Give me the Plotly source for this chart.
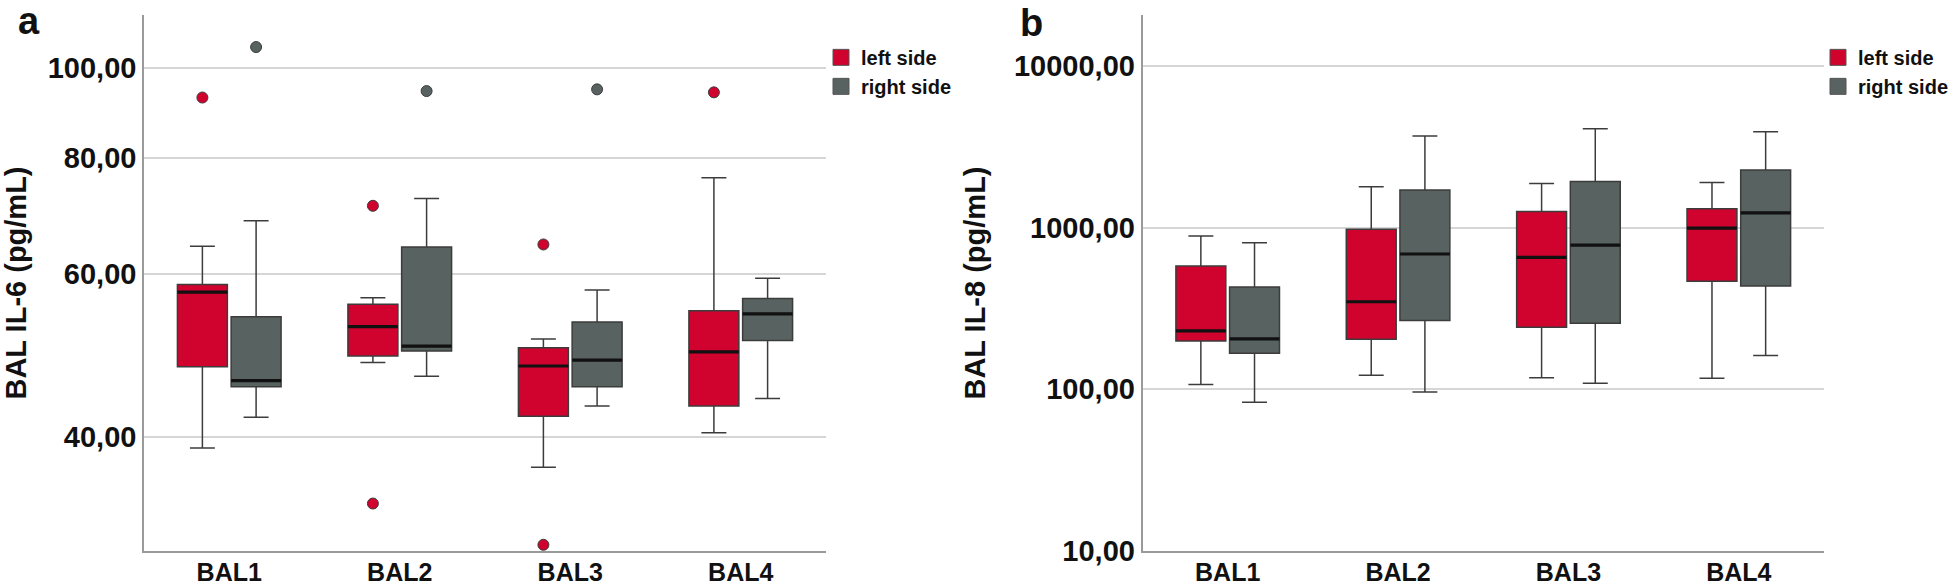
import plotly.graph_objects as go

# ---------------- data ----------------
categories = ["BAL1", "BAL2", "BAL3", "BAL4"]

# Panel a: BAL IL-6 (pg/mL)
il6_left_lower = [38.9, 48.1, 37.1, 40.4]
il6_left_q1 = [47.6, 48.9, 42.1, 43.2]
il6_left_median = [57.3, 52.6, 47.7, 49.4]
il6_left_q3 = [58.4, 55.6, 49.9, 54.7]
il6_left_upper = [64.2, 56.5, 51.0, 76.1]
il6_left_out_x = ["BAL1", "BAL2", "BAL2", "BAL3", "BAL3", "BAL4"]
il6_left_out_y = [92.9, 71.0, 33.9, 64.5, 30.6, 94.1]

il6_right_lower = [42.0, 46.5, 43.2, 44.0]
il6_right_q1 = [45.3, 49.5, 45.3, 50.8]
il6_right_median = [46.0, 50.1, 48.4, 54.3]
il6_right_q3 = [53.9, 64.1, 53.2, 56.4]
il6_right_upper = [68.4, 72.3, 57.6, 59.3]
il6_right_out_x = ["BAL1", "BAL2", "BAL3"]
il6_right_out_y = [105.3, 94.4, 94.8]

# Panel b: BAL IL-8 (pg/mL)
il8_left_lower = [107, 122, 118, 117]
il8_left_q1 = [199, 204, 242, 466]
il8_left_median = [230, 348, 655, 993]
il8_left_q3 = [579, 977, 1261, 1309]
il8_left_upper = [887, 1791, 1879, 1902]

il8_right_lower = [83, 96, 109, 162]
il8_right_q1 = [167, 266, 256, 435]
il8_right_median = [205, 687, 780, 1234]
il8_right_q3 = [430, 1708, 1930, 2275]
il8_right_upper = [806, 3695, 4090, 3917]

il6_tickvals = [40, 60, 80, 100]
il6_ticktext = ["40,00", "60,00", "80,00", "100,00"]
il8_tickvals = [10, 100, 1000, 10000]
il8_ticktext = ["10,00", "100,00", "1000,00", "10000,00"]

series_names = ["left side", "right side"]

# ---------------- style ----------------
RED = "#D0022E"
GREY = "#586361"
OUTLINE = "#3c3c3c"
FONT = "Liberation Sans, Arial, sans-serif"
W, H = 1960, 586

fig = go.Figure()


def add_panel(xa, ya, stats_left, stats_right, out_left, out_right, legend_name):
    for stats, color, grp, name, outs in [
        (stats_left, RED, "L", series_names[0], out_left),
        (stats_right, GREY, "R", series_names[1], out_right),
    ]:
        lower, q1, med, q3, upper = stats
        fig.add_trace(go.Box(
            x=categories, q1=q1, median=med, q3=q3,
            lowerfence=lower, upperfence=upper,
            fillcolor=color, line=dict(color=OUTLINE, width=1.5),
            whiskerwidth=0.5, offsetgroup=grp, name=name,
            showlegend=False, xaxis=xa, yaxis=ya,
        ))
        # thick black median line
        fig.add_trace(go.Box(
            x=categories, q1=med, median=med, q3=med,
            lowerfence=med, upperfence=med,
            fillcolor="rgba(0,0,0,0)", line=dict(color="#111111", width=3.2),
            whiskerwidth=0, offsetgroup=grp, name=name,
            showlegend=False, hoverinfo="skip", xaxis=xa, yaxis=ya,
        ))
        if outs is not None:
            ox, oy = outs
            fig.add_trace(go.Box(
                x=ox, y=oy, boxpoints="all", jitter=0, pointpos=0,
                fillcolor="rgba(0,0,0,0)",
                line=dict(color="rgba(0,0,0,0)", width=0),
                marker=dict(color=color, size=11,
                            line=dict(color=OUTLINE, width=1)),
                offsetgroup=grp, name=name, showlegend=False,
                xaxis=xa, yaxis=ya,
            ))
        # legend entry
        fig.add_trace(go.Scatter(
            x=[None], y=[None], mode="markers", name=name,
            marker=dict(symbol="square", size=18, color=color,
                        line=dict(color="#555555", width=1)),
            legend=legend_name, xaxis=xa, yaxis=ya,
        ))


add_panel("x", "y",
          (il6_left_lower, il6_left_q1, il6_left_median, il6_left_q3, il6_left_upper),
          (il6_right_lower, il6_right_q1, il6_right_median, il6_right_q3, il6_right_upper),
          (il6_left_out_x, il6_left_out_y), (il6_right_out_x, il6_right_out_y),
          "legend")
add_panel("x2", "y2",
          (il8_left_lower, il8_left_q1, il8_left_median, il8_left_q3, il8_left_upper),
          (il8_right_lower, il8_right_q1, il8_right_median, il8_right_q3, il8_right_upper),
          None, None, "legend2")

xaxis_common = dict(
    type="category", categoryorder="array", categoryarray=categories,
    range=[-0.5, 3.5], showline=True, linecolor="#9a9a9a", linewidth=1.5,
    showgrid=False, ticks="", zeroline=False, automargin=False,
    tickfont=dict(family=FONT, size=25, color="#111111", weight="bold"),
    ticklabelstandoff=-2,
)
yaxis_common = dict(
    type="log", showline=True, linecolor="#9a9a9a", linewidth=1.5,
    showgrid=True, gridcolor="#d6d6d6", gridwidth=2, ticks="",
    zeroline=False, automargin=False,
    tickfont=dict(family=FONT, size=29, color="#111111", weight="bold"),
    ticklabelstandoff=0,
)

legend_common = dict(
    xanchor="left", yanchor="top", bgcolor="rgba(0,0,0,0)", tracegroupgap=0,
    font=dict(family=FONT, size=20, color="#111111", weight="bold"),
)

fig.update_layout(
    width=W, height=H,
    margin=dict(l=0, r=0, t=15, b=35),
    paper_bgcolor="white", plot_bgcolor="white",
    boxmode="group", boxgap=0.37, boxgroupgap=0.07,
    font=dict(family=FONT, color="#111111"),
    xaxis=dict(domain=[144 / W, 826 / W], anchor="y", **xaxis_common),
    xaxis2=dict(domain=[1142.5 / W, 1824 / W], anchor="y2", **xaxis_common),
    yaxis=dict(anchor="x", range=[1.479, 2.057], tickvals=il6_tickvals,
               ticktext=il6_ticktext,
               title=dict(text="BAL IL-6 (pg/mL)", standoff=20,
                          font=dict(family=FONT, size=29, color="#111111", weight="bold")),
               **yaxis_common),
    yaxis2=dict(anchor="x2", range=[0.999, 4.316], tickvals=il8_tickvals,
                ticktext=il8_ticktext,
                title=dict(text="BAL IL-8 (pg/mL)", standoff=20,
                           font=dict(family=FONT, size=29, color="#111111", weight="bold")),
                **yaxis_common),
    legend=dict(x=821 / W, y=1 - 25 / H, **legend_common),
    legend2=dict(x=1818 / W, y=1 - 25 / H, **legend_common),
    annotations=[
        dict(text="a", x=29 / W, y=1 - 7 / H, xref="paper", yref="paper",
             xanchor="center", yanchor="middle", showarrow=False,
             font=dict(family=FONT, size=38, color="#111111", weight="bold")),
        dict(text="b", x=1031 / W, y=1 - 9 / H, xref="paper", yref="paper",
             xanchor="center", yanchor="middle", showarrow=False,
             font=dict(family=FONT, size=38, color="#111111", weight="bold")),
    ],
)

fig.write_html(
    "out.html",
    config={"displayModeBar": False},
    post_script="document.body.style.margin='0px';document.body.style.padding='0px';",
)
